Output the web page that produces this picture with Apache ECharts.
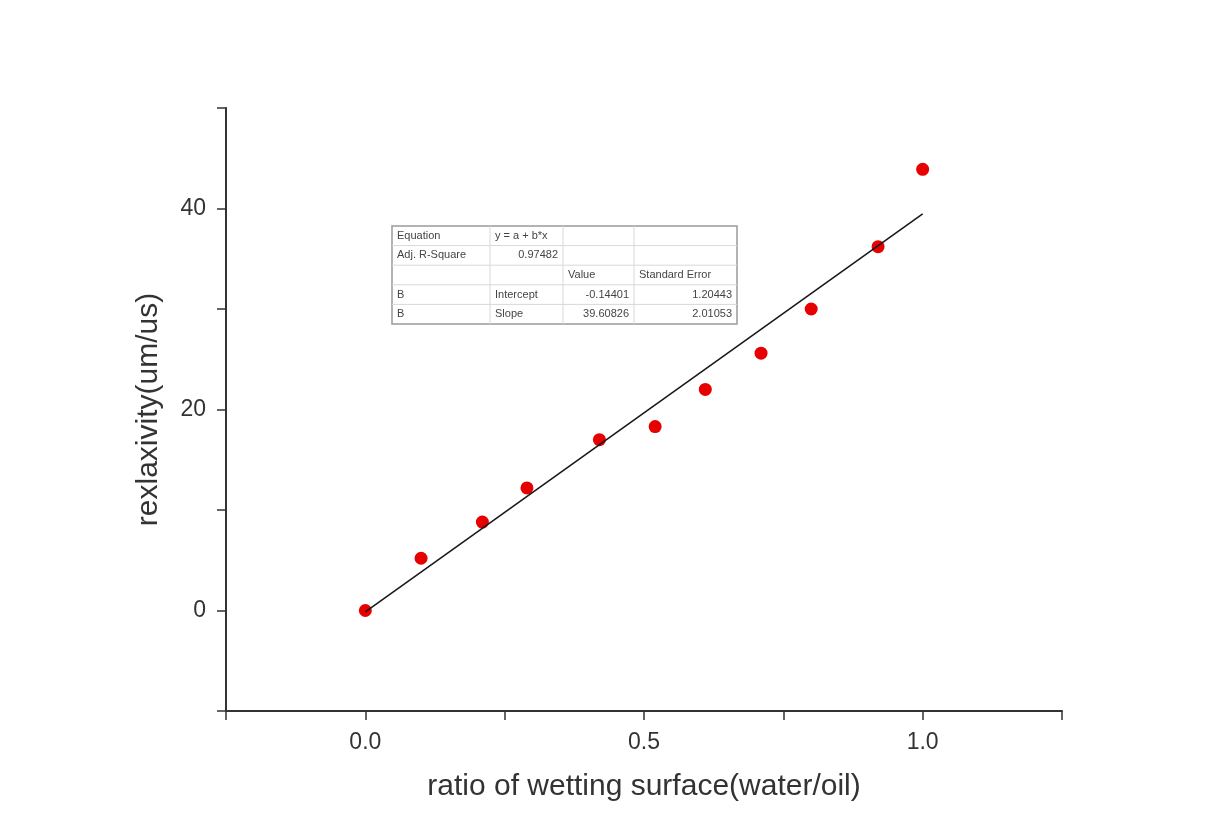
<!DOCTYPE html>
<html>
<head>
<meta charset="utf-8">
<script src="https://cdn.jsdelivr.net/npm/echarts@6/dist/echarts.min.js"></script>
<style>
  html, body { margin: 0; padding: 0; background: #ffffff; }
  #chart { width: 1217px; height: 813px; }
</style>
</head>
<body>
<div id="chart"></div>
<script>
// ---- data ----
const ratioX = [0.0, 0.10, 0.21, 0.29, 0.42, 0.52, 0.61, 0.71, 0.80, 0.92, 1.0];
const relaxY = [0.0, 5.2, 8.8, 12.2, 17.0, 18.3, 22.0, 25.6, 30.0, 36.2, 43.9];
const fitIntercept = -0.14401;
const fitSlope = 39.60826;
const fitRangeX = [0.0, 1.0];
const xTickLabels = ["0.0", "0.5", "1.0"];
const yTickLabels = ["0", "20", "40"];
const xAxisTitle = "ratio of wetting surface(water/oil)";
const yAxisTitle = "rexlaxivity(um/us)";
const tableRows = [
  ["Equation", "y = a + b*x", "", ""],
  ["Adj. R-Square", "0.97482", "", ""],
  ["", "", "Value", "Standard Error"],
  ["B", "Intercept", "-0.14401", "1.20443"],
  ["B", "Slope", "39.60826", "2.01053"]
];

// ---- build ----
const scatterData = ratioX.map((x, i) => [x, relaxY[i]]);
const fitData = fitRangeX.map(x => [x, fitIntercept + fitSlope * x]);

const FONT = "'Liberation Sans', Arial, sans-serif";

// table styling (layout only)
const tblLeft = 392, tblTop = 226;
const colEdges = [0, 98, 171, 242, 345];
const rowH = 19.6;
const cellAlign = [
  ["left", "left", "left", "left"],
  ["left", "right", "left", "left"],
  ["left", "left", "left", "left"],
  ["left", "left", "right", "right"],
  ["left", "left", "right", "right"]
];
const tableGraphics = [];
const tblW = colEdges[colEdges.length - 1];
const tblH = rowH * tableRows.length;
tableGraphics.push({
  type: 'rect', shape: { x: tblLeft, y: tblTop, width: tblW, height: tblH },
  style: { fill: '#ffffff', stroke: '#9a9a9a', lineWidth: 1.5 }, z: 10
});
for (let r = 1; r < tableRows.length; r++) {
  tableGraphics.push({
    type: 'line', shape: { x1: tblLeft, y1: tblTop + r * rowH, x2: tblLeft + tblW, y2: tblTop + r * rowH },
    style: { stroke: '#d8d8d8', lineWidth: 1 }, z: 11
  });
}
for (let c = 1; c < colEdges.length - 1; c++) {
  tableGraphics.push({
    type: 'line', shape: { x1: tblLeft + colEdges[c], y1: tblTop, x2: tblLeft + colEdges[c], y2: tblTop + tblH },
    style: { stroke: '#d8d8d8', lineWidth: 1 }, z: 11
  });
}
tableRows.forEach((row, r) => {
  row.forEach((txt, c) => {
    if (!txt) return;
    const al = cellAlign[r][c];
    const x = al === 'right' ? tblLeft + colEdges[c + 1] - 5 : tblLeft + colEdges[c] + 5;
    tableGraphics.push({
      type: 'text', z: 12,
      style: {
        text: txt, x: x, y: tblTop + r * rowH + rowH / 2,
        align: al, verticalAlign: 'middle',
        font: "11px " + FONT, fill: '#444444'
      }
    });
  });
});

const chart = echarts.init(document.getElementById('chart'), null, { renderer: 'canvas' });
chart.setOption({
  backgroundColor: '#ffffff',
  animation: false,
  grid: { left: 226, right: 155, top: 108, bottom: 102, containLabel: false },
  xAxis: {
    type: 'value', min: -0.25, max: 1.25, interval: 0.25,
    name: xAxisTitle, nameLocation: 'middle', nameGap: 61,
    nameTextStyle: { fontFamily: FONT, fontSize: 30, color: '#333333' },
    axisLine: { show: true, onZero: false, lineStyle: { color: '#333333', width: 2 } },
    axisTick: { show: true, inside: false, length: 9, lineStyle: { color: '#333333', width: 1.5 } },
    axisLabel: {
      margin: 20, fontFamily: FONT, fontSize: 23, color: '#333333',
      showMinLabel: true, showMaxLabel: true,
      formatter: v => {
        const lbl = v.toFixed(1);
        return (Math.abs(v * 2 - Math.round(v * 2)) < 1e-9 && xTickLabels.includes(lbl)) ? lbl : '';
      }
    },
    splitLine: { show: false }
  },
  yAxis: {
    type: 'value', min: -10, max: 50, interval: 10,
    name: yAxisTitle, nameLocation: 'middle', nameGap: 62,
    nameTextStyle: { fontFamily: FONT, fontSize: 30, color: '#333333' },
    axisLine: { show: true, onZero: false, lineStyle: { color: '#333333', width: 2 } },
    axisTick: { show: true, inside: false, length: 9, lineStyle: { color: '#333333', width: 1.5 } },
    axisLabel: {
      margin: 20, fontFamily: FONT, fontSize: 23, color: '#333333',
      formatter: v => {
        const lbl = String(Math.round(v));
        return (Math.round(v) % 20 === 0 && yTickLabels.includes(lbl)) ? lbl : '';
      }
    },
    splitLine: { show: false }
  },
  series: [
    {
      type: 'scatter', data: scatterData, symbol: 'circle', symbolSize: 13,
      itemStyle: { color: '#e60000', opacity: 1 }, z: 2
    },
    {
      type: 'line', data: fitData, showSymbol: false, symbol: 'none',
      lineStyle: { color: '#1a1a1a', width: 1.6 }, z: 3
    }
  ],
  graphic: tableGraphics
});
</script>
</body>
</html>
